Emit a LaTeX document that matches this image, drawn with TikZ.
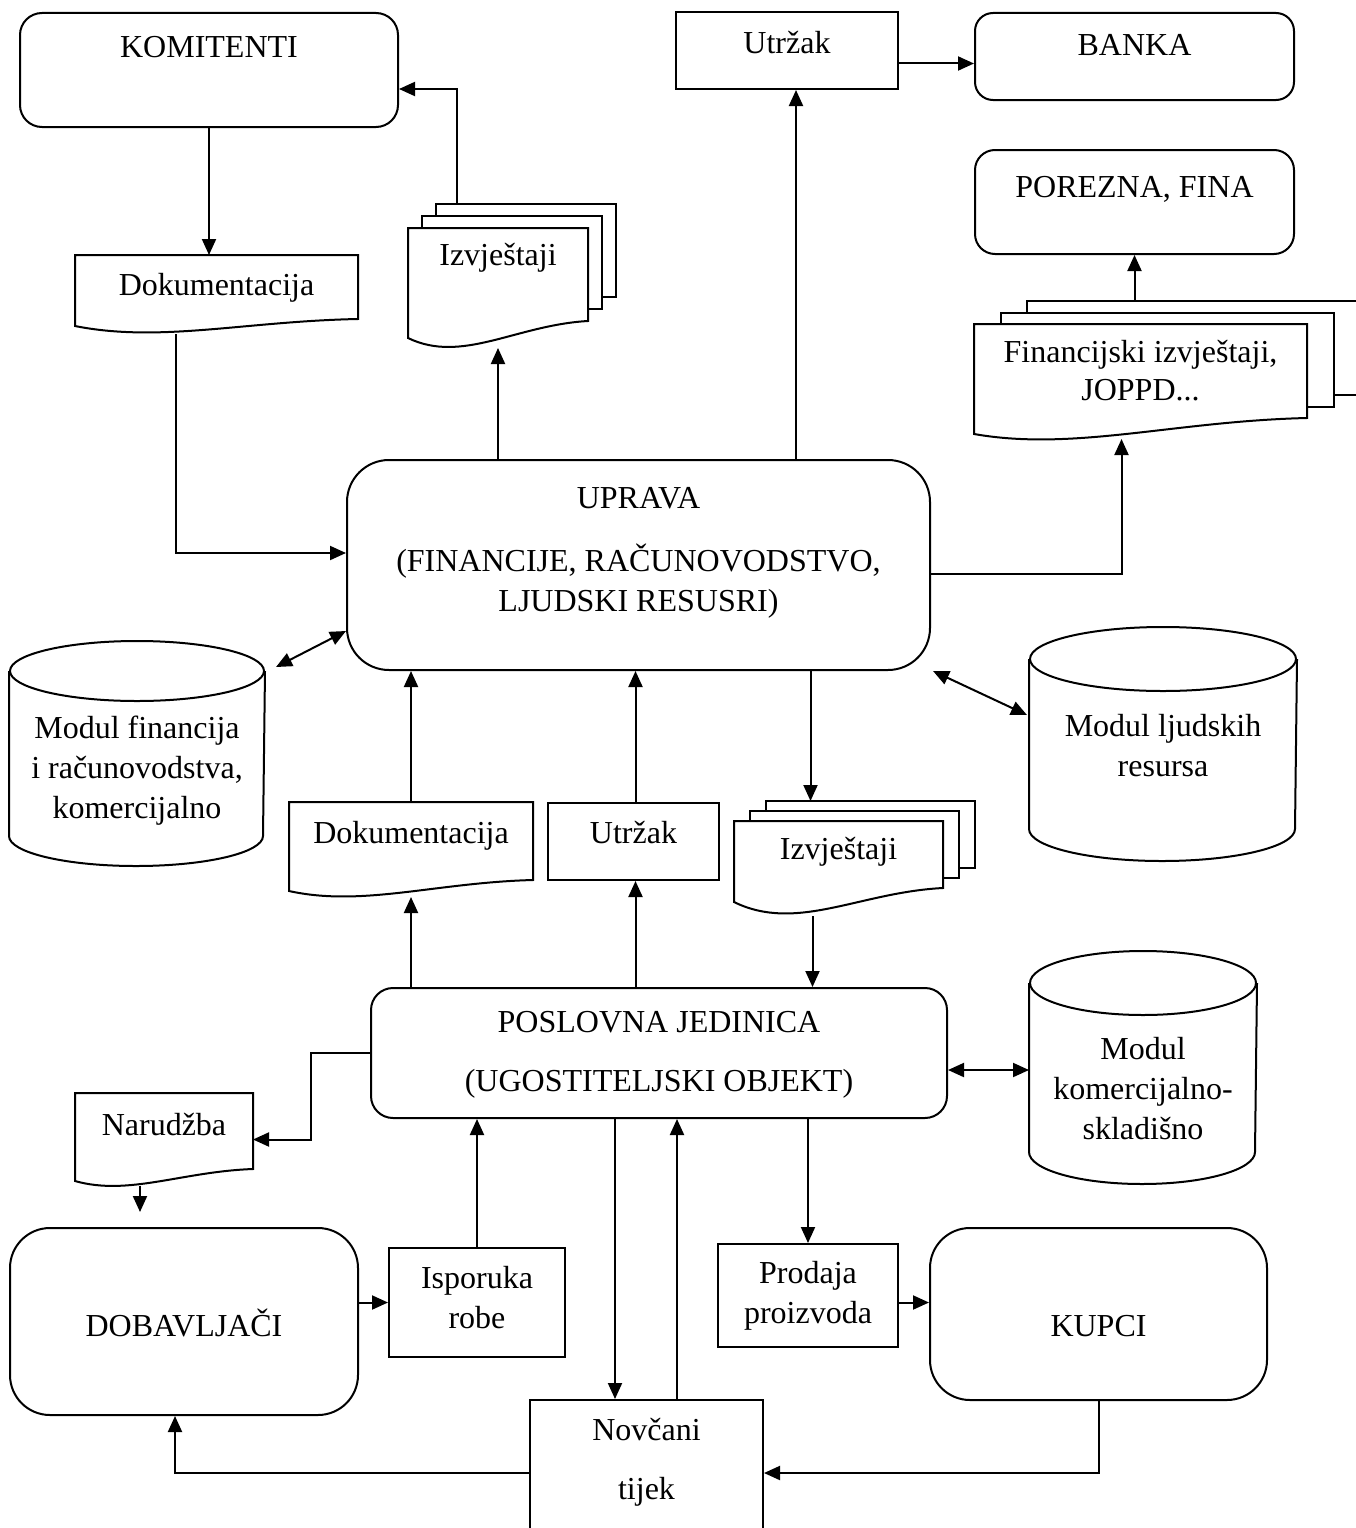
\documentclass[tikz,border=0pt]{standalone}
\usepackage{fontspec}
\setmainfont{Liberation Serif}
\usetikzlibrary{arrows.meta,calc,backgrounds}
\newcommand{\dfont}{\fontsize{32}{40}\selectfont}
% document outline round a node: node, rise of right end, rise of left end
\newcommand{\docshape}[3]{%
  \draw[fill=white] ([yshift=#3pt]#1.south west) |- (#1.north east) -- ([yshift=#2pt]#1.south east)
    .. controls ([yshift=0.85*#2pt]$(#1.south east)!0.4!(#1.south west)$) and ([yshift=-0.6*#2pt]$(#1.south west)!0.3!(#1.south east)$) .. ([yshift=#3pt]#1.south west) -- cycle;}
% two sheets behind a document: node, dx, dy, rise of right end
\newcommand{\docstack}[4]{%
  \foreach \k in {2,1}
    \draw[fill=white] ([shift={(\k*#2,\k*#3)}]#1.north west) rectangle ([shift={(\k*#2,\k*#3+#4)}]#1.south east);}
% cylinder round a node: node, half width, half height of the ellipse
\newcommand{\dbshape}[3]{%
  \draw (#1.north west) -- ([yshift=#3pt]#1.south west) arc[start angle=180,end angle=360,x radius=#2pt,y radius=#3pt] -- (#1.north east);
  \draw (#1.north) ellipse[x radius=#2pt,y radius=#3pt];}

\begin{document}
\begin{tikzpicture}[x=1pt,y=1pt,line width=2pt,
  box/.style={draw,rectangle,inner sep=0pt,align=center,font=\dfont},
  rbox/.style={box,rounded corners=22pt},
  doc/.style={rectangle,inner sep=0pt,align=center,font=\dfont},
  db/.style={rectangle,inner sep=0pt,align=center,font=\dfont},
  arr/.style={-{Triangle[length=16pt,width=14pt]}},
  arr2/.style={{Triangle[length=16pt,width=14pt]}-{Triangle[length=16pt,width=14pt]}}]
\useasboundingbox (0,0) rectangle (1356,-1528);

% top row
\node[rbox,minimum width=378pt,minimum height=114pt,text height=45pt,text depth=69pt] (kom) at (209,-70) {KOMITENTI};
\node[box,minimum width=222pt,minimum height=77pt,text height=41pt,text depth=36pt] (utrA) at (787,-50.5) {Utržak};
\node[rbox,rounded corners=18pt,minimum width=319pt,minimum height=87pt,text height=43pt,text depth=44pt] (banka) at (1134.5,-56.5) {BANKA};
\node[rbox,rounded corners=20pt,minimum width=319pt,minimum height=104pt,text height=47pt,text depth=57pt] (porez) at (1134.5,-202) {POREZNA, FINA};
\node[doc,minimum width=281pt,minimum height=77pt,text height=39pt,text depth=38pt] (dokA) at (216.5,-294.5) {Dokumentacija};
\node[doc,minimum width=178pt,minimum height=118pt,text height=36pt,text depth=82pt] (izvA) at (498,-288) {Izvještaji};
\node[doc,minimum width=331pt,minimum height=113pt,text height=75pt,text depth=38pt] (fin) at (1140.5,-381.5) {Financijski izvještaji,\\[-2pt]JOPPD...};

% management
\node[rbox,rounded corners=42pt,minimum width=583pt,minimum height=210pt,text height=151pt,text depth=59pt] (uprava) at (638.5,-565) {UPRAVA\\[23pt](FINANCIJE, RAČUNOVODSTVO,\\LJUDSKI RESUSRI)};
\node[db,minimum width=254pt,minimum height=193pt,text height=146pt,text depth=47pt] (cylL) at (137,-768.5) {Modul financija\\i računovodstva,\\komercijalno};
\node[db,minimum width=266pt,minimum height=200pt,text height=116pt,text depth=84pt] (cylR) at (1163,-760) {Modul ljudskih\\resursa};
\node[doc,minimum width=242pt,minimum height=93pt,text height=40pt,text depth=53pt] (dokB) at (411,-849.5) {Dokumentacija};
\node[box,minimum width=171pt,minimum height=77pt,text height=40pt,text depth=37pt] (utrB) at (633.5,-841.5) {Utržak};
\node[doc,minimum width=207pt,minimum height=93pt,text height=37pt,text depth=56pt] (izvB) at (838.5,-868.5) {Izvještaji};

% business unit
\node[rbox,minimum width=576pt,minimum height=130pt,text height=103pt,text depth=27pt] (pos) at (659,-1053) {POSLOVNA JEDINICA\\[19pt](UGOSTITELJSKI OBJEKT)};
\node[db,minimum width=226pt,minimum height=199pt,text height=155pt,text depth=44pt] (cylK) at (1143,-1083.5) {Modul\\komercijalno-\\skladišno};
\node[doc,minimum width=176pt,minimum height=91pt,text height=41pt,text depth=50pt] (nar) at (164,-1139.5) {Narudžba};

% bottom row
\node[rbox,rounded corners=40pt,minimum width=348pt,minimum height=187pt,text height=108pt,text depth=79pt] (dob) at (184,-1321.5) {DOBAVLJAČI};
\node[box,minimum width=176pt,minimum height=109pt,text height=80pt,text depth=29pt] (isp) at (477,-1302.5) {Isporuka\\robe};
\node[box,minimum width=180pt,minimum height=103pt,text height=79pt,text depth=24pt] (prod) at (808,-1295.5) {Prodaja\\proizvoda};
\node[rbox,rounded corners=40pt,minimum width=337pt,minimum height=172pt,text height=108pt,text depth=64pt] (kup) at (1098.5,-1314) {KUPCI};
\node[box,minimum width=233pt,minimum height=134pt,text height=99pt,text depth=35pt] (nov) at (646.5,-1467) {Novčani\\[19pt]tijek};
\coordinate (narEnd) at (140,-1212);

\begin{scope}[on background layer]
\begin{scope}[line width=2pt]
\docstack{izvA}{14}{12}{27}
\docshape{izvA}{27}{10}
\docshape{dokA}{15}{8}
\docstack{fin}{26.5}{11.5}{21}
\docshape{fin}{21}{5}
\docshape{dokB}{17}{6}
\docstack{izvB}{16}{10}{28}
\docshape{izvB}{28}{14}
\docshape{nar}{17}{5}
\dbshape{cylL}{127}{30}
\dbshape{cylR}{133}{32}
\dbshape{cylK}{113}{32}
\end{scope}
\end{scope}

% flows round the management
\draw[arr] (kom.south) -- (kom.south |- dokA.north);
\draw[arr] ([xshift=-41pt]dokA.south) |- ([yshift=12pt]uprava.west);
\draw[arr] (izvA.south |- uprava.north) -- (izvA.south);
\draw[arr] ([shift={(-41,24)}]izvA.north) |- ([yshift=-19pt]kom.east);
\draw[arr] ([xshift=9pt]utrA.south |- uprava.north) -- ([xshift=9pt]utrA.south);
\draw[arr] ([yshift=-13pt]utrA.east) -- ([yshift=-13pt]utrA.east -| banka.west);
\draw[arr] ([yshift=23pt]fin.north -| porez.south) -- (porez.south);
\draw[arr] ([yshift=-9pt]uprava.east) -| ([xshift=-19pt]fin.south);
\draw[arr2] ([shift={(11,4)}]cylL.north east) -- ([yshift=-66pt]uprava.west);
\draw[arr2] ([xshift=2pt]uprava.south east) -- ([shift={(-2,-56)}]cylR.north west);
\draw[arr] (dokB.north) -- (dokB.north |- uprava.south);
\draw[arr] ([xshift=2pt]utrB.north) -- ([xshift=2pt]utrB.north |- uprava.south);
\draw[arr] ([xshift=-28pt]izvB.north |- uprava.south) -- ([shift={(-28,20)}]izvB.north);

% flows round the business unit
\draw[arr] (dokB.south |- pos.north) -- (dokB.south);
\draw[arr] ([xshift=2pt]utrB.south |- pos.north) -- ([xshift=2pt]utrB.south);
\draw[arr] ([xshift=-26pt]izvB.south) -- ([xshift=-26pt]izvB.south |- pos.north);
\draw[arr] (pos.west) -- ++(-59,0) |- (nar.east);
\draw[arr] (narEnd |- nar.south) -- (narEnd);
\draw[arr2] ([yshift=-17pt]pos.east) -- ([yshift=-17pt]pos.east -| cylK.west);
\draw[arr] (isp.north) -- (isp.north |- pos.south);
\draw[arr] (dob.east |- isp.west) -- (isp.west);
\draw[arr] ([xshift=-31.5pt]nov.north |- pos.south) -- ([xshift=-31.5pt]nov.north);
\draw[arr] ([xshift=30.5pt]nov.north) -- ([xshift=30.5pt]nov.north |- pos.south);
\draw[arr] (prod.north |- pos.south) -- (prod.north);
\draw[arr] ([yshift=-7pt]prod.east) -- ([yshift=-7pt]prod.east -| kup.west);
\draw[arr] (kup.south) |- ([yshift=-6pt]nov.east);
\draw[arr] ([yshift=-6pt]nov.west) -| ([xshift=-9pt]dob.south);
\end{tikzpicture}
\end{document}
